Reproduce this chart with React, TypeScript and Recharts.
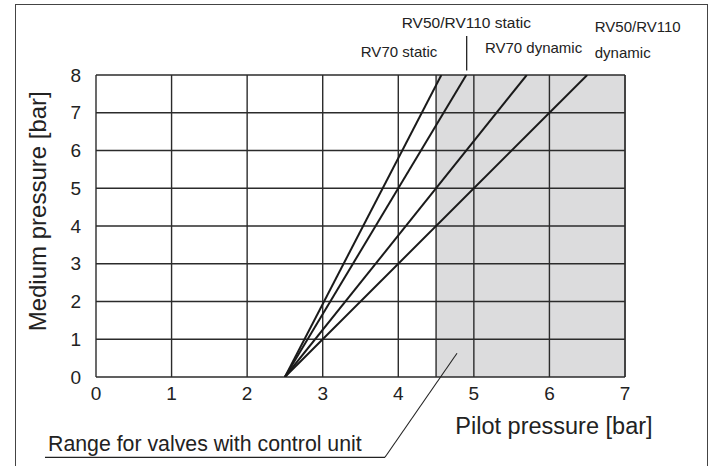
import React from "react";
import {
  ComposedChart,
  Line,
  XAxis,
  YAxis,
  ReferenceArea,
  ReferenceLine,
  ReferenceDot,
} from "recharts";

// pilot pressure where all curves start (bar)
const START_PILOT = 2.5;
const SERIES_NAMES = ["RV70 static", "RV50/RV110 static", "RV70 dynamic", "RV50/RV110 dynamic"];
// pilot pressure at which each line reaches 8 bar medium pressure
const END_PILOT = [4.57, 4.9, 5.7, 6.5];
const END_MEDIUM = 8;

const X_TICKS = [0, 1, 2, 3, 4, 5, 6, 7];
const Y_TICKS = [0, 1, 2, 3, 4, 5, 6, 7, 8];

// shaded range for valves with control unit
const RANGE_FROM = 4.5;
const RANGE_TO = 7;

const FONT = '"Liberation Sans", Arial, Helvetica, sans-serif';
const INK = "#222";
const GRID = "#2b2b2b";

type Note = {
  text: string;
  x: number;
  y: number;
  size: number;
  anchor: "center" | "right";
  angle?: number;
};

const NOTES: Note[] = [
  { text: "RV70 static", x: 4.01, y: 8.63, size: 15, anchor: "center" },
  { text: "RV50/RV110 static", x: 4.9, y: 9.38, size: 15.5, anchor: "center" },
  { text: "RV70 dynamic", x: 5.79, y: 8.72, size: 15, anchor: "center" },
  { text: "RV50/RV110", x: 6.6, y: 9.28, size: 15, anchor: "right" },
  { text: "dynamic", x: 6.6, y: 8.58, size: 15, anchor: "right" },
  { text: "Pilot pressure [bar]", x: 6.06, y: -1.28, size: 23.5, anchor: "center" },
  { text: "Medium pressure [bar]", x: -0.77, y: 4.39, size: 24, anchor: "center", angle: -90 },
  { text: "Range for valves with control unit", x: -0.635, y: -1.76, size: 21.3, anchor: "right" },
];

export default function App() {
  const series = END_PILOT.map((end, i) => ({
    name: SERIES_NAMES[i],
    data: [
      { p: START_PILOT, m: 0 },
      { p: end, m: END_MEDIUM },
    ],
  }));

  return (
    <div style={{ position: "absolute", left: 0, top: 0, width: 715, height: 466, background: "#fff", overflow: "hidden" }}>
      {/* outer frame */}
      <div
        style={{
          position: "absolute",
          left: 15,
          top: 4,
          width: 693,
          height: 480,
          border: "1.6px solid #444",
          boxSizing: "border-box",
        }}
      />
      <div style={{ position: "absolute", left: 0, top: 0 }}>
        <ComposedChart
          width={715}
          height={466}
          margin={{ top: 75, right: 90, bottom: 0, left: 0 }}
          style={{ fontFamily: FONT }}
        >
          <XAxis
            type="number"
            dataKey="p"
            domain={[0, 7]}
            ticks={X_TICKS}
            allowDataOverflow
            axisLine={false}
            tickLine={false}
            tickSize={0}
            tickMargin={10}
            height={89}
            tick={{ fill: INK, fontSize: 19, fontFamily: FONT }}
          />
          <YAxis
            type="number"
            dataKey="m"
            domain={[0, 8]}
            ticks={Y_TICKS}
            allowDataOverflow
            axisLine={false}
            tickLine={false}
            tickSize={0}
            tickMargin={15}
            width={96}
            tick={{ fill: INK, fontSize: 19, fontFamily: FONT }}
          />
          <ReferenceArea
            x1={RANGE_FROM}
            x2={RANGE_TO}
            y1={0}
            y2={8}
            fill="#dcdcdd"
            fillOpacity={1}
            stroke="none"
          />
          {X_TICKS.map((t) => (
            <ReferenceLine
              key={"vx" + t}
              x={t}
              stroke={t === 7 ? "#444" : GRID}
              strokeWidth={t === 7 ? 2 : 1.4}
            />
          ))}
          <ReferenceLine x={RANGE_FROM} stroke={GRID} strokeWidth={1.4} />
          {Y_TICKS.map((t) => (
            <ReferenceLine key={"hy" + t} y={t} stroke={GRID} strokeWidth={1.4} />
          ))}
          {series.map((s) => (
            <Line
              key={s.name}
              name={s.name}
              data={s.data}
              dataKey="m"
              type="linear"
              stroke="#1a1a1a"
              strokeWidth={2}
              dot={false}
              activeDot={false}
              isAnimationActive={false}
            />
          ))}
          {/* leader to RV50/RV110 static */}
          <ReferenceLine
            segment={[
              { x: 4.905, y: 8.12 },
              { x: 4.905, y: 9.03 },
            ]}
            stroke={INK}
            strokeWidth={1.3}
            ifOverflow="visible"
          />
          {/* leader for the shaded range */}
          <ReferenceLine
            segment={[
              { x: -0.675, y: -2.127 },
              { x: 3.824, y: -2.127 },
            ]}
            stroke={INK}
            strokeWidth={1.3}
            ifOverflow="visible"
          />
          <ReferenceLine
            segment={[
              { x: 3.824, y: -2.127 },
              { x: 4.777, y: 0.628 },
            ]}
            stroke={INK}
            strokeWidth={1.1}
            ifOverflow="visible"
          />
          {NOTES.map((n) => (
            <ReferenceDot
              key={n.text}
              x={n.x}
              y={n.y}
              r={0.01}
              fill="none"
              stroke="none"
              ifOverflow="visible"
              label={{
                value: n.text,
                position: n.anchor,
                offset: 0,
                fill: INK,
                fontSize: n.size,
                fontFamily: FONT,
                angle: n.angle,
              }}
            />
          ))}
        </ComposedChart>
      </div>
    </div>
  );
}
